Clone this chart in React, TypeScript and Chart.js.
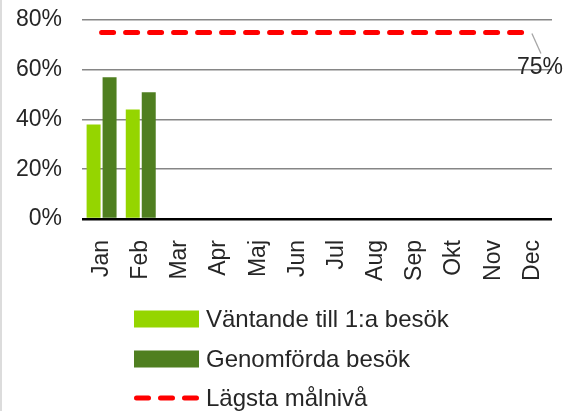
import React, { useEffect, useRef } from "react";
import { Chart, registerables } from "chart.js";

Chart.register(...registerables);

const months = ["Jan", "Feb", "Mar", "Apr", "Maj", "Jun", "Jul", "Aug", "Sep", "Okt", "Nov", "Dec"];
const waitingValues: (number | null)[] = [38, 44, null, null, null, null, null, null, null, null, null, null];
const completedValues: (number | null)[] = [57, 51, null, null, null, null, null, null, null, null, null, null];
const targetValues: number[] = [75, 75, 75, 75, 75, 75, 75, 75, 75, 75, 75, 75];
const seriesLabels = ["Väntande till 1:a besök", "Genomförda besök", "Lägsta målnivå"];
const yMax = 80;
const yStep = 20;

const FONT = '"Liberation Sans", Arial, sans-serif';
const TEXT = "#262626";
const LIGHT = "#95D500";
const DARK = "#4F7F20";
const RED = "#FF0000";

const extrasPlugin = {
  id: "extras",
  afterDatasetsDraw(chart: any) {
    const ctx = chart.ctx;
    const meta = chart.getDatasetMeta(2);
    const pts = meta.data;
    const last = pts[pts.length - 1];
    if (!last) return;
    const val = chart.data.datasets[2].data[pts.length - 1];
    ctx.save();
    ctx.strokeStyle = "#a6a6a6";
    ctx.lineWidth = 1.3;
    ctx.beginPath();
    ctx.moveTo(last.x - 0.5, last.y + 1);
    ctx.lineTo(last.x + 8.5, last.y + 21);
    ctx.stroke();
    ctx.fillStyle = TEXT;
    ctx.font = `23px ${FONT}`;
    ctx.textAlign = "center";
    ctx.textBaseline = "middle";
    ctx.fillText(`${val}%`, last.x + 7.5, last.y + 35);
    ctx.restore();
  },
  afterDraw(chart: any) {
    const ctx = chart.ctx;
    const ds = chart.data.datasets;
    const boxX = 132;
    const boxW = 65;
    const textX = 204;
    const rows = [319, 359, 398];
    ctx.save();
    ctx.font = `24px ${FONT}`;
    ctx.textBaseline = "middle";
    ctx.textAlign = "left";
    ds.forEach((d: any, i: number) => {
      const cy = rows[i];
      if (d.type === "line") {
        ctx.strokeStyle = d.borderColor;
        ctx.lineWidth = 5;
        ctx.lineCap = "round";
        ctx.setLineDash([12, 12]);
        ctx.beginPath();
        ctx.moveTo(boxX + 2.5, cy);
        ctx.lineTo(boxX + boxW - 2.5, cy);
        ctx.stroke();
        ctx.setLineDash([]);
      } else {
        ctx.fillStyle = d.backgroundColor;
        ctx.fillRect(boxX, cy - 8.5, boxW, 17);
      }
      ctx.fillStyle = TEXT;
      ctx.fillText(d.label, textX, cy + 1);
    });
    ctx.restore();
  },
};

function zeroPadding(scale: any) {
  scale.paddingTop = 0;
  scale.paddingBottom = 0;
  scale.paddingLeft = 0;
  scale.paddingRight = 0;
}

export default function App() {
  const ref = useRef<HTMLCanvasElement | null>(null);

  useEffect(() => {
    if (!ref.current) return;
    const chart = new Chart(ref.current, {
      type: "bar",
      data: {
        labels: months,
        datasets: [
          {
            type: "bar",
            label: seriesLabels[0],
            data: waitingValues,
            backgroundColor: LIGHT,
            categoryPercentage: 0.816,
            barPercentage: 0.875,
            order: 2,
          },
          {
            type: "bar",
            label: seriesLabels[1],
            data: completedValues,
            backgroundColor: DARK,
            categoryPercentage: 0.816,
            barPercentage: 0.875,
            order: 2,
          },
          {
            type: "line",
            label: seriesLabels[2],
            data: targetValues,
            borderColor: RED,
            backgroundColor: RED,
            borderWidth: 5,
            borderDash: [12, 12],
            borderCapStyle: "round",
            pointRadius: 0,
            fill: false,
            order: 1,
          },
        ] as any,
      },
      options: {
        animation: false,
        responsive: false,
        maintainAspectRatio: false,
        layout: { padding: { top: 20, right: 24, bottom: 0, left: 0 } },
        plugins: {
          legend: { display: false },
          tooltip: { enabled: false },
        },
        scales: {
          x: {
            grid: { display: false, drawTicks: false },
            border: { display: false },
            ticks: {
              autoSkip: false,
              minRotation: 90,
              maxRotation: 90,
              padding: 21,
              color: TEXT,
              font: { family: FONT, size: 23 },
            },
            afterFit(scale: any) {
              scale.height = 192;
              zeroPadding(scale);
            },
          },
          y: {
            min: 0,
            max: yMax,
            border: { display: false },
            grid: {
              drawTicks: false,
              color: (c: any) => (c.tick && c.tick.value === 0 ? "#000000" : "#868686"),
              lineWidth: (c: any) => (c.tick && c.tick.value === 0 ? 2.5 : 1.6),
            },
            ticks: {
              stepSize: yStep,
              padding: 20,
              color: TEXT,
              font: { family: FONT, size: 23 },
              callback: (v: any) => `${v}%`,
            },
            afterFit(scale: any) {
              scale.width = 80;
              zeroPadding(scale);
            },
          },
        },
      },
      plugins: [extrasPlugin],
    });
    return () => chart.destroy();
  }, []);

  return (
    <div
      style={{
        position: "fixed",
        left: 0,
        top: 0,
        width: 576,
        height: 411,
        boxSizing: "border-box",
        borderLeft: "2px solid #dcdcdc",
        background: "#ffffff",
      }}
    >
      <canvas ref={ref} width={574} height={411} style={{ display: "block", width: 574, height: 411 }} />
    </div>
  );
}
